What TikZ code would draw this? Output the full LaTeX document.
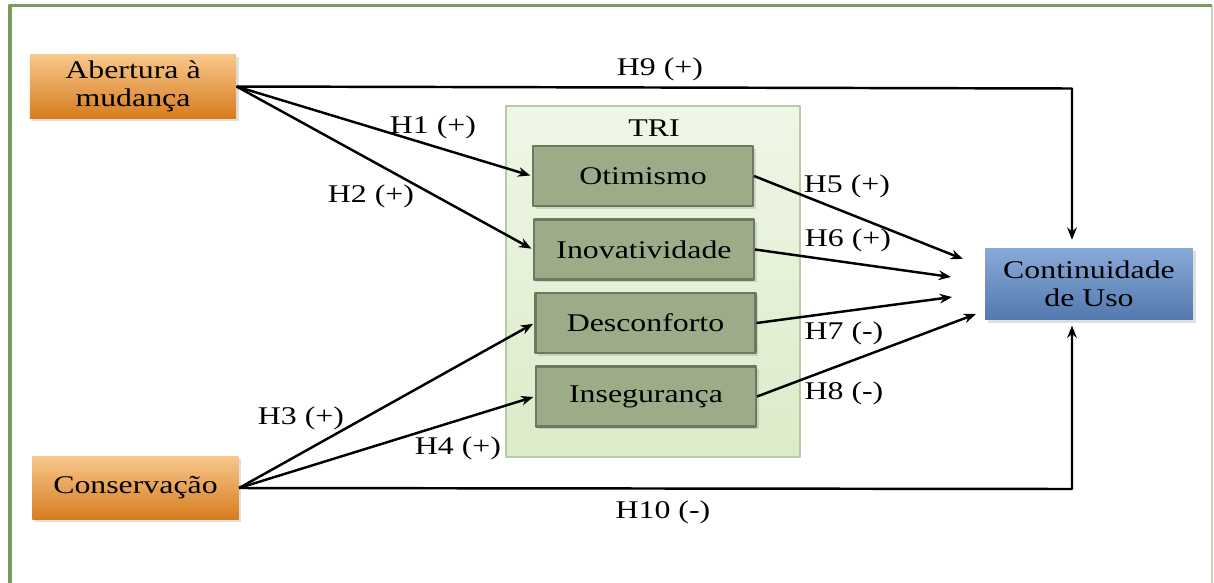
\documentclass[tikz,border=0pt]{standalone}
\usepackage{fontspec}
\setmainfont{Liberation Serif}[FakeStretch=1.25]
\usetikzlibrary{arrows.meta,shadows}
\definecolor{moldura}{HTML}{7B9A5E}
\definecolor{molduraclara}{HTML}{C9D2C0}
\definecolor{laranjaclaro}{HTML}{F8C78C}
\definecolor{laranjaescuro}{HTML}{D67C1E}
\definecolor{salvia}{HTML}{9CAC88}
\definecolor{salviaborda}{HTML}{6C785F}
\definecolor{triclaro}{HTML}{EFF6E7}
\definecolor{triescuro}{HTML}{DCEBC9}
\definecolor{triborda}{HTML}{B7CAA2}
\definecolor{azulclaro}{HTML}{89AAD8}
\definecolor{azulescuro}{HTML}{5278AE}
\begin{document}
\begin{tikzpicture}[x=0.02cm, y=-0.02cm, line join=round, >={Stealth[length=7pt,width=5.5pt]},
	texto/.style={font=\fontsize{14.5}{16}\selectfont, inner sep=0pt},
	sombra/.style={drop shadow={shadow xshift=1.5pt, shadow yshift=-1.5pt, opacity=.25}},
	construto/.style={texto, sombra, align=center, minimum width=4.13cm, minimum height=1.27cm,
		top color=laranjaclaro, bottom color=laranjaescuro},
	dimensao/.style={texto, sombra, draw=salviaborda, line width=1.2pt, fill=salvia,
		minimum width=4.4cm, minimum height=1.2cm},
	seta/.style={->, line width=1.4pt, shorten >=1pt}]
	\useasboundingbox (0,0) rectangle (1214,582);
	% moldura
	\draw[molduraclara, line width=1pt] (1212,6) -- (1212,600);
	\draw[moldura, line width=2pt] (10,600) -- (10,5.5) -- (1212,5.5);
	% construtos
	\node[construto] (abertura) at (133,86.5) {Abertura à\\mudança};
	\node[construto] (conservacao) at (135.5,488) {Conservação};
	\node[texto, sombra, align=center, minimum width=4.16cm, minimum height=1.44cm,
		top color=azulclaro, bottom color=azulescuro] (continuidade) at (1089,284) {Continuidade\\de Uso};
	% TRI
	\node[draw=triborda, line width=1pt, top color=triclaro, bottom color=triescuro,
		minimum width=5.88cm, minimum height=7.02cm] (tri) at (653,281.5) {};
	\node[texto] (trilabel) at (654,128) {TRI};
	\node[dimensao] (otimismo) at (643,176) {Otimismo};
	\node[dimensao] (inovatividade) at (644,249.5) {Inovatividade};
	\node[dimensao] (desconforto) at (645.5,323) {Desconforto};
	\node[dimensao] (inseguranca) at (646,396.5) {Insegurança};
	% pontos livres
	\coordinate (canto9) at (1072,88.5);
	\coordinate (canto10) at (1072,489);
	\coordinate (e5) at (963,259);
	\coordinate (e6) at (951,277);
	\coordinate (e7) at (952,297);
	\coordinate (e8) at (976,314);
	% setas
	\draw[seta] (abertura.east) -- (otimismo.west);
	\draw[seta] (abertura.east) -- (inovatividade.west);
	\draw[seta, shorten >=4.5pt] (abertura.east) -- (canto9) -- (canto9 |- continuidade.north);
	\draw[seta] (conservacao.east) -- (desconforto.west);
	\draw[seta] (conservacao.east) -- (inseguranca.west);
	\draw[seta, shorten >=3pt] (conservacao.east) -- (canto10) -- (canto10 |- continuidade.south);
	\draw[seta, shorten >=0pt] (otimismo.east) -- (e5);
	\draw[seta, shorten >=0pt] (inovatividade.east) -- (e6);
	\draw[seta, shorten >=0pt] (desconforto.east) -- (e7);
	\draw[seta, shorten >=0pt] (inseguranca.east) -- (e8);
	% rotulos
	\node[texto] (h1) at (433,127) {H1 (+)};
	\node[texto] (h2) at (371,196) {H2 (+)};
	\node[texto] (h3) at (301,418) {H3 (+)};
	\node[texto] (h4) at (458,448) {H4 (+)};
	\node[texto] (h5) at (847,186) {H5 (+)};
	\node[texto] (h6) at (848,240) {H6 (+)};
	\node[texto] (h7) at (844,333) {H7 (-)};
	\node[texto] (h8) at (844,393) {H8 (-)};
	\node[texto] (h9) at (660,69) {H9 (+)};
	\node[texto] (h10) at (663,512) {H10 (-)};
\end{tikzpicture}
\end{document}
